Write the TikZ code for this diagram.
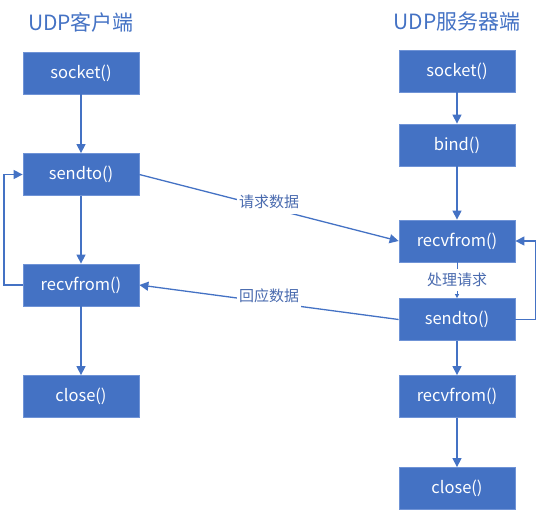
\documentclass[tikz,border=0pt]{standalone}
\usepackage{fontspec}
\setmainfont{Noto Sans CJK SC}
\usetikzlibrary{arrows.meta}
\definecolor{boxblue}{HTML}{4472C4}
\definecolor{edgeblue}{HTML}{6F93D6}
\definecolor{lineblue}{HTML}{4472C4}
\definecolor{txtblue}{HTML}{4A6BAF}
\tikzset{
  fn/.style={rectangle, fill=boxblue, draw=edgeblue, line width=0.8pt, minimum width=116pt, minimum height=42pt, inner sep=0pt, text=white, font=\fontsize{16.5}{16.5}\selectfont},
  conn/.style={draw=lineblue, line width=1.3pt, -{Triangle[length=9pt,width=9pt]}},
  lbl/.style={fill=white, text=txtblue, font=\fontsize{15}{15}\selectfont, inner sep=2pt},
  ttl/.style={text=boxblue, font=\fontsize{21}{21}\selectfont}
}
\begin{document}
\begin{tikzpicture}[x=1pt,y=-1pt]
\useasboundingbox (0,0) rectangle (538,512);
\node[ttl] (tc) at (81,22) {UDP客户端};
\node[ttl] (ts) at (457,22) {UDP服务器端};
% client
\node[fn] (cs) at (81,73) {socket()};
\node[fn] (csd) at (81,174.5) {sendto()};
\node[fn] (crv) at (81,285) {recvfrom()};
\node[fn] (ccl) at (81,396.5) {close()};
% server
\node[fn] (ss) at (457,71) {socket()};
\node[fn] (sb) at (457,145) {bind()};
\node[fn] (srv) at (457,241) {recvfrom()};
\node[fn] (ssd) at (457,319.5) {sendto()};
\node[fn] (srv2) at (457,396.5) {recvfrom()};
\node[fn] (scl) at (457,488.5) {close()};
\coordinate (cl1) at (4,285);
\coordinate (cl2) at (4,174.5);
\coordinate (sr1) at (535.5,319.5);
\coordinate (sr2) at (535.5,241);
% client arrows
\draw[conn] (cs) -- (csd);
\draw[conn] (csd) -- (crv);
\draw[conn] (crv) -- (ccl);
\draw[conn] (crv.west) -- (cl1) -- (cl2) -- (csd.west);
% server arrows
\draw[conn] (ss) -- (sb);
\draw[conn] (sb) -- (srv);
\draw[draw=lineblue, line width=0.8pt, -{Triangle[length=4pt,width=4pt]}] (srv) -- node[lbl, inner ysep=4pt] {处理请求} (ssd);
\draw[conn] (ssd) -- (srv2);
\draw[conn] (srv2) -- (scl);
\draw[conn] (ssd.east) -- (sr1) -- (sr2) -- (srv.east);
% data
\draw[conn] (csd.east) -- node[lbl, yshift=6pt, inner ysep=5pt] {请求数据} (srv.west);
\draw[conn] (ssd.west) -- node[lbl, yshift=6pt, inner ysep=5pt] {回应数据} (crv.east);
\end{tikzpicture}
\end{document}
